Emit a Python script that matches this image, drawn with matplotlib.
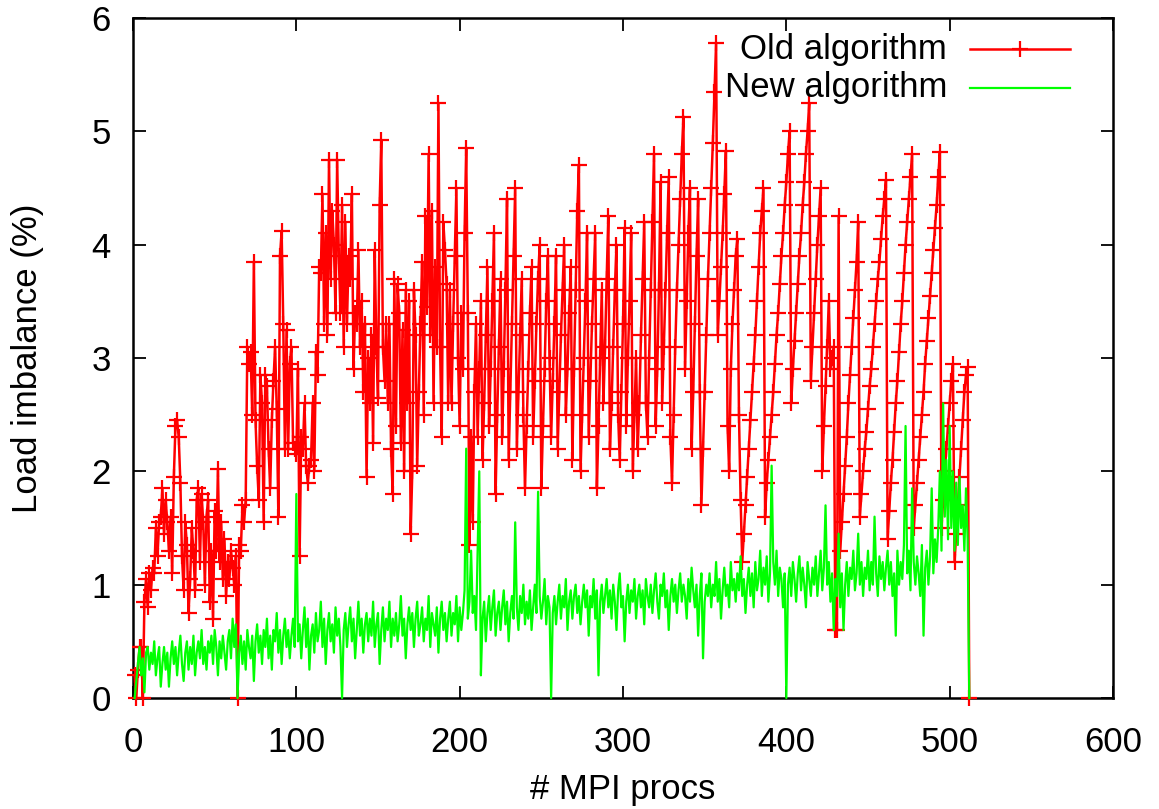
import numpy as np
import matplotlib
matplotlib.use("Agg")
import matplotlib.pyplot as plt
from matplotlib.lines import Line2D

plt.rcParams['font.family'] = ['Liberation Sans', 'DejaVu Sans']

# ---------------- data ----------------
old_algorithm = [
    0.2, 0.0, 0.25, 0.45, 0.45, 0.0, 0.85, 1.05, 0.8, 1.1, 0.95, 1.15, 1.1, 1.5, 1.25, 1.55,
    1.6, 1.85, 1.45, 1.75, 1.55, 1.3, 1.6, 1.1, 1.95, 2.4, 2.45, 2.3, 1.9, 1.25, 0.95, 1.55,
    1.35, 0.75, 1.05, 1.5, 1.3, 0.95, 1.75, 1.85, 1.2, 1.8, 1.55, 1.0, 1.6, 1.75, 0.85, 1.3,
    0.7, 1.65, 1.3, 2.02, 1.2, 1.55, 1.05, 1.4, 0.9, 1.2, 1.05, 1.3, 1.15, 1.0, 1.25, 0.0,
    1.35, 1.3, 1.7, 1.55, 1.75, 3.1, 2.95, 3.05, 2.5, 3.85, 2.45, 2.05, 1.75, 2.85, 2.6, 1.55,
    2.85, 2.75, 2.2, 1.85, 2.45, 2.8, 3.1, 2.55, 1.6, 3.9, 4.12, 3.3, 2.2, 3.25, 2.2, 2.95,
    3.1, 2.25, 2.2, 2.15, 2.9, 1.25, 2.3, 2.2, 2.6, 2.05, 1.9, 2.05, 2.1, 2.6, 2.0, 3.05,
    2.85, 3.8, 3.75, 4.45, 3.3, 4.1, 3.2, 4.75, 3.7, 4.3, 4.0, 3.4, 4.75, 3.9, 3.4, 4.35,
    3.1, 4.2, 3.3, 3.9, 3.7, 4.45, 2.9, 3.4, 3.3, 3.95, 3.1, 3.5, 2.7, 3.3, 1.95, 3.0,
    2.6, 3.2, 2.25, 3.95, 3.1, 2.65, 4.35, 4.92, 3.1, 2.8, 3.3, 2.6, 3.3, 2.2, 1.8, 3.7,
    2.4, 3.65, 3.4, 2.25, 3.25, 2.0, 3.6, 2.6, 3.5, 1.45, 2.0, 3.6, 3.2, 2.05, 2.7, 3.3,
    3.85, 2.5, 4.25, 3.45, 4.8, 3.2, 4.3, 2.6, 3.8, 3.1, 5.25, 3.1, 2.3, 4.2, 3.95, 3.65,
    2.6, 3.6, 2.6, 3.3, 3.9, 4.5, 3.0, 2.4, 3.4, 2.9, 4.1, 4.85, 3.4, 1.35, 2.3, 1.55,
    2.7, 3.3, 2.3, 2.9, 3.5, 2.1, 2.6, 3.2, 3.8, 2.4, 2.9, 3.5, 4.1, 1.8, 2.5, 3.1,
    3.7, 2.3, 2.9, 3.6, 4.4, 2.1, 2.7, 3.3, 3.9, 4.5, 2.2, 2.7, 3.2, 3.7, 2.5, 1.85,
    2.4, 2.9, 3.4, 3.8, 2.3, 2.8, 3.3, 3.7, 4.0, 1.85, 2.4, 2.9, 3.5, 3.9, 3.0, 2.3,
    2.8, 3.3, 3.9, 2.2, 2.7, 3.2, 3.6, 4.0, 2.5, 2.9, 3.4, 3.8, 2.1, 2.9, 3.6, 4.3,
    4.7, 2.0, 2.5, 3.0, 3.5, 4.1, 2.3, 2.8, 3.3, 3.7, 4.1, 1.85, 2.4, 3.0, 3.6, 2.6,
    3.1, 3.7, 4.25, 2.2, 2.6, 3.1, 3.6, 4.0, 2.5, 2.1, 2.7, 3.3, 4.15, 2.4, 3.0, 3.5,
    4.1, 2.0, 2.5, 3.0, 2.2, 2.6, 3.2, 3.7, 4.2, 2.6, 2.3, 3.0, 3.6, 4.2, 4.8, 2.4,
    2.9, 3.6, 4.55, 2.6, 3.1, 3.6, 4.1, 4.6, 2.3, 1.9, 2.5, 3.1, 3.6, 4.0, 4.4, 4.8,
    5.13, 2.9, 3.5, 4.1, 4.5, 2.2, 2.7, 3.3, 3.9, 4.4, 2.7, 1.7, 2.2, 2.7, 3.2, 3.7,
    4.1, 4.5, 4.9, 5.35, 5.78, 3.2, 3.5, 3.8, 4.1, 4.45, 4.83, 2.4, 2.0, 2.9, 3.3, 3.6,
    3.9, 4.05, 2.5, 1.75, 1.2, 1.45, 1.7, 1.95, 2.2, 2.45, 2.7, 2.95, 3.2, 3.5, 3.8, 4.1,
    4.3, 4.5, 1.6, 1.9, 2.1, 2.3, 2.5, 2.7, 2.95, 3.2, 3.4, 3.65, 3.9, 4.1, 4.35, 4.55,
    4.8, 5.0, 2.6, 2.9, 3.15, 3.4, 3.65, 3.9, 4.1, 4.35, 4.55, 4.8, 5.0, 5.25, 2.8, 3.1,
    3.4, 3.7, 4.0, 4.25, 4.5, 2.0, 2.4, 2.75, 3.1, 3.5, 2.9, 3.0, 3.1, 0.6, 0.6, 4.25,
    1.3, 1.55, 1.8, 2.05, 2.3, 2.6, 2.85, 3.1, 3.35, 3.6, 3.85, 4.2, 1.6, 1.8, 2.0, 2.2,
    2.35, 2.55, 2.75, 2.9, 3.1, 3.3, 3.5, 3.7, 3.85, 4.05, 4.25, 4.4, 4.57, 1.4, 1.65, 1.9,
    2.1, 2.35, 2.6, 2.8, 3.05, 3.3, 3.5, 3.75, 4.0, 4.2, 4.4, 4.6, 4.8, 1.5, 1.7, 1.9,
    2.1, 2.3, 2.5, 2.7, 2.95, 3.15, 3.35, 3.55, 3.75, 3.95, 4.15, 4.35, 4.6, 4.82, 1.5, 1.75,
    2.0, 2.2, 2.4, 2.6, 2.8, 2.95, 1.2, 1.45, 1.7, 1.95, 2.2, 2.45, 2.7, 2.85, 2.92, 0.0,
]

new_algorithm = [
    0.0, 0.15, 0.3, 0.45, 0.2, 0.35, 0.05, 0.4, 0.45, 0.25, 0.4, 0.3, 0.5, 0.2, 0.35, 0.45,
    0.1, 0.3, 0.45, 0.25, 0.4, 0.1, 0.35, 0.5, 0.3, 0.45, 0.2, 0.4, 0.55, 0.3, 0.15, 0.4,
    0.5, 0.25, 0.45, 0.3, 0.55, 0.2, 0.4, 0.5, 0.35, 0.6, 0.3, 0.45, 0.25, 0.5, 0.4, 0.55,
    0.3, 0.6, 0.45, 0.2, 0.5, 0.35, 0.55, 0.4, 0.25, 0.5, 0.6, 0.35, 0.7, 0.45, 0.65, 0.0,
    0.4, 0.55, 0.3, 0.5, 0.25, 0.6, 0.45, 0.35, 0.55, 0.15, 0.5, 0.65, 0.4, 0.55, 0.3, 0.6,
    0.45, 0.7, 0.35, 0.55, 0.25, 0.6, 0.5, 0.75, 0.4, 0.6, 0.3, 0.55, 0.7, 0.45, 0.6, 0.35,
    0.55, 0.7, 0.45, 1.8, 0.5, 0.65, 0.35, 0.6, 0.8, 0.45, 0.7, 0.25, 0.55, 0.65, 0.4, 0.75,
    0.5, 0.6, 0.85, 0.45, 0.7, 0.3, 0.6, 0.75, 0.5, 0.65, 0.4, 0.8, 0.55, 0.7, 0.45, 0.0,
    0.6, 0.75, 0.45, 0.65, 0.8, 0.5, 0.7, 0.35, 0.6, 0.85, 0.55, 0.7, 0.4, 0.65, 0.75, 0.5,
    0.7, 0.55, 0.85, 0.45, 0.65, 0.75, 0.3, 0.6, 0.8, 0.5, 0.7, 0.6, 0.85, 0.45, 0.7, 0.55,
    0.75, 0.5, 0.65, 0.9, 0.55, 0.7, 0.35, 0.65, 0.8, 0.6, 0.75, 0.45, 0.7, 0.85, 0.55, 0.65,
    0.8, 0.5, 0.7, 0.6, 0.9, 0.45, 0.75, 0.65, 0.55, 0.8, 0.4, 0.7, 0.85, 0.6, 0.75, 0.5,
    0.7, 0.85, 0.55, 0.75, 0.65, 0.9, 0.5, 0.8, 0.6, 0.75, 0.95, 2.2, 0.7, 0.85, 1.3, 0.75,
    0.9, 0.6, 1.3, 2.0, 0.2, 0.7, 0.85, 0.5, 0.75, 0.9, 0.6, 0.8, 0.95, 0.55, 0.75, 0.85,
    0.6, 0.8, 0.95, 0.65, 0.85, 0.5, 0.75, 0.9, 0.7, 1.55, 0.8, 0.6, 0.9, 0.75, 1.0, 0.65,
    0.85, 0.7, 0.95, 0.6, 0.8, 1.0, 0.75, 1.82, 0.9, 0.7, 0.85, 1.05, 0.65, 0.9, 0.8, 0.0,
    0.75, 0.9, 0.65, 0.85, 1.0, 0.7, 0.9, 0.8, 1.05, 0.6, 0.85, 0.95, 0.7, 0.9, 1.0, 0.75,
    0.9, 0.65, 0.85, 1.0, 0.8, 0.95, 0.55, 0.9, 0.8, 1.05, 0.7, 0.95, 0.2, 0.85, 1.0, 0.75,
    0.9, 1.05, 0.8, 0.95, 0.7, 1.0, 0.85, 0.6, 0.95, 1.1, 0.8, 0.9, 0.5, 0.85, 1.0, 0.75,
    0.95, 0.85, 1.05, 0.7, 0.9, 1.0, 0.8, 0.95, 0.65, 1.05, 0.9, 0.8, 1.0, 0.75, 0.95, 1.1,
    0.85, 0.7, 1.0, 0.9, 1.1, 0.8, 0.95, 0.6, 0.9, 1.05, 0.85, 1.0, 0.75, 0.95, 1.1, 0.85,
    1.0, 0.9, 0.7, 1.05, 0.85, 1.15, 0.95, 0.8, 1.0, 0.55, 0.9, 1.1, 0.35, 0.85, 1.0, 0.9,
    1.1, 0.8, 1.0, 0.9, 1.2, 0.85, 1.05, 0.7, 0.95, 1.15, 0.9, 1.0, 0.8, 1.2, 0.95, 1.05,
    0.85, 1.1, 0.95, 1.25, 0.9, 1.05, 0.75, 1.0, 1.15, 0.9, 1.1, 0.8, 1.2, 0.95, 1.05, 1.3,
    0.9, 1.15, 1.0, 1.25, 0.85, 1.1, 2.05, 1.2, 1.0, 1.3, 0.9, 1.15, 1.05, 0.8, 1.1, 0.0,
    1.0, 1.15, 0.9, 1.2, 1.05, 0.85, 1.1, 1.25, 0.95, 1.15, 1.0, 0.8, 1.2, 1.05, 0.9, 1.15,
    1.0, 1.25, 0.9, 1.1, 1.3, 0.95, 1.15, 1.7, 1.0, 1.2, 0.85, 1.1, 0.6, 1.05, 0.9, 1.45,
    0.8, 1.1, 0.6, 1.0, 1.2, 0.9, 1.15, 1.05, 1.3, 0.95, 1.1, 1.45, 1.0, 1.2, 0.9, 1.15,
    1.05, 1.3, 0.95, 1.2, 1.0, 1.6, 1.1, 0.9, 1.25, 1.05, 1.2, 0.95, 1.15, 1.3, 1.0, 1.2,
    0.9, 1.1, 0.55, 1.3, 1.0, 1.2, 1.05, 1.35, 2.4, 1.1, 1.3, 0.95, 1.85, 1.2, 1.0, 1.25,
    1.1, 0.9, 1.35, 0.55, 1.15, 1.3, 1.0, 1.25, 1.85, 1.1, 1.4, 1.2, 1.5, 2.0, 1.3, 2.6,
    1.6, 2.1, 1.4, 2.4, 1.5, 2.0, 1.3, 1.9, 1.35, 1.95, 1.5, 1.7, 1.3, 1.85, 1.4, 0.0,
]

x_old = np.arange(1, len(old_algorithm) + 1)
x_new = np.arange(1, len(new_algorithm) + 1)

labels = ["Old algorithm", "New algorithm"]
x_ticks = [0, 100, 200, 300, 400, 500, 600]
y_ticks = [0, 1, 2, 3, 4, 5, 6]

# ---------------- figure ----------------
W, H = 1159, 809
fig = plt.figure(figsize=(W / 100, H / 100), dpi=100)
ax = fig.add_axes([133 / W, 1 - 698 / H, (1113 - 133) / W, (698 - 18) / H])

red = '#ff0000'
green = '#00ff00'

ax.plot(x_old, old_algorithm, color=red, lw=1.8, marker='+', ms=11, mew=1.6,
        clip_on=False, zorder=3)
ax.plot(x_new, new_algorithm, color=green, lw=1.6, clip_on=False, zorder=4)

ax.set_xlim(0, 600)
ax.set_ylim(0, 6)
ax.set_xticks(x_ticks)
ax.set_yticks(y_ticks)
ax.tick_params(direction='in', length=9, width=1.3, top=True, right=True,
               labelsize=25, colors='black')
ax.tick_params(axis='x', pad=20)
ax.tick_params(axis='y', pad=16)
for s in ax.spines.values():
    s.set_linewidth(1.8)
    s.set_color('black')

ax.set_xlabel("# MPI procs", fontsize=25, labelpad=10)
ax.set_ylabel("Load imbalance (%)", fontsize=25, labelpad=34)

# gnuplot-style legend (text right-aligned, sample to the right)
tx = (947 - 133) / 980
lx0, lx1 = (970 - 133) / 980, (1070 - 133) / 980
rows = [(698 - 49) / 680, (698 - 88) / 680]
ax.text(tx, rows[0], labels[0], transform=ax.transAxes, ha='right', va='center', fontsize=25)
ax.text(tx, rows[1], labels[1], transform=ax.transAxes, ha='right', va='center', fontsize=25)
ax.add_line(Line2D([lx0, lx1], [rows[0]] * 2, transform=ax.transAxes, color=red, lw=1.8))
ax.add_line(Line2D([(lx0 + lx1) / 2], [rows[0]], transform=ax.transAxes, color=red,
                   marker='+', ms=11, mew=1.6))
ax.add_line(Line2D([lx0, lx1], [rows[1]] * 2, transform=ax.transAxes, color=green, lw=1.6))

fig.savefig("out.png", dpi=100)
